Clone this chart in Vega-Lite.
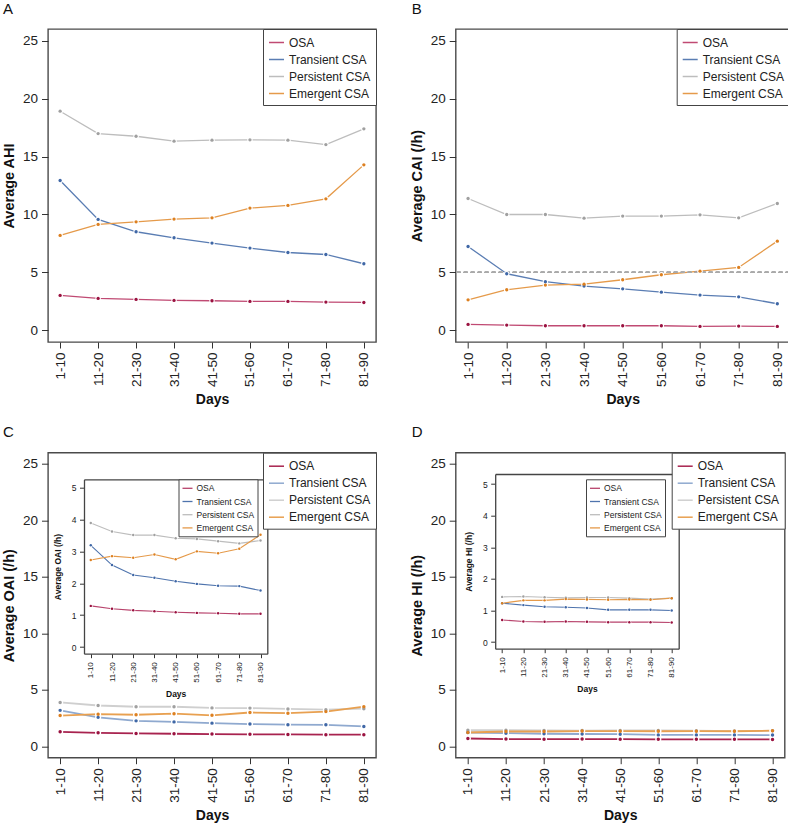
{
  "$schema": "https://vega.github.io/schema/vega-lite/v6.json",
  "padding": {"left": 0, "top": 0, "right": 0, "bottom": 0},
  "background": "white",
  "config": {
    "font": "Liberation Sans",
    "view": {"stroke": "#4a4a4a", "strokeWidth": 1.4},
    "axis": {"grid": false, "domain": false, "tickColor": "#333333", "labelColor": "#222222", "titleColor": "#111111", "titleFontWeight": "bold", "labelFont": "Liberation Sans", "titleFont": "Liberation Sans"},
    "legend": {"labelFont": "Liberation Sans", "labelColor": "#222222"},
    "title": {"font": "Liberation Sans", "color": "#111111"}
  },
  "datasets": {
    "ahi": [
      {"d":"1-10","g":"OSA","v":3.02},{"d":"11-20","g":"OSA","v":2.76},{"d":"21-30","g":"OSA","v":2.67},{"d":"31-40","g":"OSA","v":2.59},{"d":"41-50","g":"OSA","v":2.56},{"d":"51-60","g":"OSA","v":2.50},{"d":"61-70","g":"OSA","v":2.50},{"d":"71-80","g":"OSA","v":2.44},{"d":"81-90","g":"OSA","v":2.41},
      {"d":"1-10","g":"Transient CSA","v":12.93},{"d":"11-20","g":"Transient CSA","v":9.57},{"d":"21-30","g":"Transient CSA","v":8.51},{"d":"31-40","g":"Transient CSA","v":7.99},{"d":"41-50","g":"Transient CSA","v":7.53},{"d":"51-60","g":"Transient CSA","v":7.10},{"d":"61-70","g":"Transient CSA","v":6.72},{"d":"71-80","g":"Transient CSA","v":6.55},{"d":"81-90","g":"Transient CSA","v":5.75},
      {"d":"1-10","g":"Persistent CSA","v":18.91},{"d":"11-20","g":"Persistent CSA","v":16.98},{"d":"21-30","g":"Persistent CSA","v":16.75},{"d":"31-40","g":"Persistent CSA","v":16.32},{"d":"41-50","g":"Persistent CSA","v":16.41},{"d":"51-60","g":"Persistent CSA","v":16.44},{"d":"61-70","g":"Persistent CSA","v":16.41},{"d":"71-80","g":"Persistent CSA","v":16.03},{"d":"81-90","g":"Persistent CSA","v":17.39},
      {"d":"1-10","g":"Emergent CSA","v":8.19},{"d":"11-20","g":"Emergent CSA","v":9.14},{"d":"21-30","g":"Emergent CSA","v":9.37},{"d":"31-40","g":"Emergent CSA","v":9.60},{"d":"41-50","g":"Emergent CSA","v":9.71},{"d":"51-60","g":"Emergent CSA","v":10.55},{"d":"61-70","g":"Emergent CSA","v":10.78},{"d":"71-80","g":"Emergent CSA","v":11.35},{"d":"81-90","g":"Emergent CSA","v":14.28}
    ],
    "cai": [
      {"d":"1-10","g":"OSA","v":0.52},{"d":"11-20","g":"OSA","v":0.46},{"d":"21-30","g":"OSA","v":0.40},{"d":"31-40","g":"OSA","v":0.40},{"d":"41-50","g":"OSA","v":0.40},{"d":"51-60","g":"OSA","v":0.40},{"d":"61-70","g":"OSA","v":0.34},{"d":"71-80","g":"OSA","v":0.37},{"d":"81-90","g":"OSA","v":0.34},
      {"d":"1-10","g":"Transient CSA","v":7.24},{"d":"11-20","g":"Transient CSA","v":4.89},{"d":"21-30","g":"Transient CSA","v":4.20},{"d":"31-40","g":"Transient CSA","v":3.82},{"d":"41-50","g":"Transient CSA","v":3.59},{"d":"51-60","g":"Transient CSA","v":3.30},{"d":"61-70","g":"Transient CSA","v":3.05},{"d":"71-80","g":"Transient CSA","v":2.90},{"d":"81-90","g":"Transient CSA","v":2.30},
      {"d":"1-10","g":"Persistent CSA","v":11.38},{"d":"11-20","g":"Persistent CSA","v":10.0},{"d":"21-30","g":"Persistent CSA","v":10.0},{"d":"31-40","g":"Persistent CSA","v":9.68},{"d":"41-50","g":"Persistent CSA","v":9.86},{"d":"51-60","g":"Persistent CSA","v":9.86},{"d":"61-70","g":"Persistent CSA","v":9.97},{"d":"71-80","g":"Persistent CSA","v":9.71},{"d":"81-90","g":"Persistent CSA","v":10.95},
      {"d":"1-10","g":"Emergent CSA","v":2.64},{"d":"11-20","g":"Emergent CSA","v":3.51},{"d":"21-30","g":"Emergent CSA","v":3.91},{"d":"31-40","g":"Emergent CSA","v":3.99},{"d":"41-50","g":"Emergent CSA","v":4.37},{"d":"51-60","g":"Emergent CSA","v":4.80},{"d":"61-70","g":"Emergent CSA","v":5.11},{"d":"71-80","g":"Emergent CSA","v":5.43},{"d":"81-90","g":"Emergent CSA","v":7.70}
    ],
    "oai": [
      {"d":"1-10","g":"OSA","v":1.29},{"d":"11-20","g":"OSA","v":1.20},{"d":"21-30","g":"OSA","v":1.15},{"d":"31-40","g":"OSA","v":1.12},{"d":"41-50","g":"OSA","v":1.09},{"d":"51-60","g":"OSA","v":1.07},{"d":"61-70","g":"OSA","v":1.06},{"d":"71-80","g":"OSA","v":1.04},{"d":"81-90","g":"OSA","v":1.04},
      {"d":"1-10","g":"Transient CSA","v":3.19},{"d":"11-20","g":"Transient CSA","v":2.57},{"d":"21-30","g":"Transient CSA","v":2.26},{"d":"31-40","g":"Transient CSA","v":2.17},{"d":"41-50","g":"Transient CSA","v":2.06},{"d":"51-60","g":"Transient CSA","v":1.98},{"d":"61-70","g":"Transient CSA","v":1.92},{"d":"71-80","g":"Transient CSA","v":1.91},{"d":"81-90","g":"Transient CSA","v":1.77},
      {"d":"1-10","g":"Persistent CSA","v":3.89},{"d":"11-20","g":"Persistent CSA","v":3.62},{"d":"21-30","g":"Persistent CSA","v":3.51},{"d":"31-40","g":"Persistent CSA","v":3.51},{"d":"41-50","g":"Persistent CSA","v":3.41},{"d":"51-60","g":"Persistent CSA","v":3.39},{"d":"61-70","g":"Persistent CSA","v":3.32},{"d":"71-80","g":"Persistent CSA","v":3.25},{"d":"81-90","g":"Persistent CSA","v":3.34},
      {"d":"1-10","g":"Emergent CSA","v":2.73},{"d":"11-20","g":"Emergent CSA","v":2.85},{"d":"21-30","g":"Emergent CSA","v":2.80},{"d":"31-40","g":"Emergent CSA","v":2.90},{"d":"41-50","g":"Emergent CSA","v":2.75},{"d":"51-60","g":"Emergent CSA","v":3.00},{"d":"61-70","g":"Emergent CSA","v":2.94},{"d":"71-80","g":"Emergent CSA","v":3.08},{"d":"81-90","g":"Emergent CSA","v":3.52}
    ],
    "hi": [
      {"d":"1-10","g":"OSA","v":0.70},{"d":"11-20","g":"OSA","v":0.65},{"d":"21-30","g":"OSA","v":0.64},{"d":"31-40","g":"OSA","v":0.65},{"d":"41-50","g":"OSA","v":0.64},{"d":"51-60","g":"OSA","v":0.63},{"d":"61-70","g":"OSA","v":0.63},{"d":"71-80","g":"OSA","v":0.63},{"d":"81-90","g":"OSA","v":0.62},
      {"d":"1-10","g":"Transient CSA","v":1.23},{"d":"11-20","g":"Transient CSA","v":1.17},{"d":"21-30","g":"Transient CSA","v":1.12},{"d":"31-40","g":"Transient CSA","v":1.10},{"d":"41-50","g":"Transient CSA","v":1.08},{"d":"51-60","g":"Transient CSA","v":1.02},{"d":"61-70","g":"Transient CSA","v":1.02},{"d":"71-80","g":"Transient CSA","v":1.02},{"d":"81-90","g":"Transient CSA","v":1.00},
      {"d":"1-10","g":"Persistent CSA","v":1.43},{"d":"11-20","g":"Persistent CSA","v":1.44},{"d":"21-30","g":"Persistent CSA","v":1.42},{"d":"31-40","g":"Persistent CSA","v":1.40},{"d":"41-50","g":"Persistent CSA","v":1.41},{"d":"51-60","g":"Persistent CSA","v":1.41},{"d":"61-70","g":"Persistent CSA","v":1.39},{"d":"71-80","g":"Persistent CSA","v":1.36},{"d":"81-90","g":"Persistent CSA","v":1.39},
      {"d":"1-10","g":"Emergent CSA","v":1.23},{"d":"11-20","g":"Emergent CSA","v":1.32},{"d":"21-30","g":"Emergent CSA","v":1.32},{"d":"31-40","g":"Emergent CSA","v":1.36},{"d":"41-50","g":"Emergent CSA","v":1.35},{"d":"51-60","g":"Emergent CSA","v":1.34},{"d":"61-70","g":"Emergent CSA","v":1.35},{"d":"71-80","g":"Emergent CSA","v":1.34},{"d":"81-90","g":"Emergent CSA","v":1.39}
    ]
  },
  "columns": 2,
  "spacing": {"row": 110.7, "column": 79.7},
  "bounds": "flush",
  "resolve": {"scale": {"color": "independent", "fill": "independent"}},
  "concat": [
    {
      "width": 328, "height": 313,
      "title": {"text": "A", "anchor": "start", "frame": "group", "dx": -45, "offset": 0, "fontSize": 15, "fontWeight": "normal", "baseline": "alphabetic"},
      "data": {"name": "ahi"},
      "layer": [
        {"mark": {"type": "line", "strokeWidth": 1.3},
         "encoding": {
           "x": {"field": "d", "type": "ordinal", "scale": {"type": "point", "domain": ["1-10","11-20","21-30","31-40","41-50","51-60","61-70","71-80","81-90"], "padding": 0.32},
                 "axis": {"orient": "bottom", "title": "Days", "labelAngle": 270, "tickSize": 6, "labelFontSize": 13.5, "labelPadding": 4, "titleFontSize": 14, "titlePadding": 6}},
           "y": {"field": "v", "type": "quantitative", "scale": {"domain": [-1, 26], "nice": false, "zero": false},
                 "axis": {"orient": "left", "title": "Average AHI", "values": [0,5,10,15,20,25], "tickSize": 6.5, "labelFontSize": 13.5, "labelPadding": 4, "titleFontSize": 14.5, "titlePadding": 6}},
           "color": {"field": "g", "type": "nominal", "scale": {"domain": ["OSA","Transient CSA","Persistent CSA","Emergent CSA"], "range": ["#c04a73","#5a7db3","#bdbdbd","#e59a4a"]},
                     "legend": {"title": null, "orient": "top-right", "offset": 0, "padding": 5, "rowPadding": 2, "labelFontSize": 12, "symbolType": "stroke", "symbolSize": 225, "symbolStrokeWidth": 1.5, "labelOffset": 4, "strokeColor": "#444444", "fillColor": "white"}}
         }},
        {"mark": {"type": "circle", "size": 30, "fill": "white", "opacity": 1},
         "encoding": {"x": {"field": "d", "type": "ordinal", "axis": {"title": "Days"}}, "y": {"field": "v", "type": "quantitative", "axis": {"title": "Average AHI"}}}},
        {"mark": {"type": "circle", "size": 11, "opacity": 1},
         "encoding": {"x": {"field": "d", "type": "ordinal", "axis": {"title": "Days"}}, "y": {"field": "v", "type": "quantitative", "axis": {"title": "Average AHI"}},
           "fill": {"field": "g", "type": "nominal", "scale": {"domain": ["OSA","Transient CSA","Persistent CSA","Emergent CSA"], "range": ["#9a1240","#3f67a6","#a0a0a0","#dd8020"]}, "legend": null}}}
      ]
    },
    {
      "width": 334, "height": 313,
      "title": {"text": "B", "anchor": "start", "frame": "group", "dx": -44, "offset": 0, "fontSize": 15, "fontWeight": "normal", "baseline": "alphabetic"},
      "data": {"name": "cai"},
      "layer": [
        {"mark": {"type": "line", "strokeWidth": 1.3},
         "encoding": {
           "x": {"field": "d", "type": "ordinal", "scale": {"type": "point", "domain": ["1-10","11-20","21-30","31-40","41-50","51-60","61-70","71-80","81-90"], "padding": 0.32},
                 "axis": {"orient": "bottom", "title": "Days", "labelAngle": 270, "tickSize": 6, "labelFontSize": 13.5, "labelPadding": 4, "titleFontSize": 14, "titlePadding": 6}},
           "y": {"field": "v", "type": "quantitative", "scale": {"domain": [-1, 26], "nice": false, "zero": false},
                 "axis": {"orient": "left", "title": "Average CAI (/h)", "values": [0,5,10,15,20,25], "tickSize": 6.5, "labelFontSize": 13.5, "labelPadding": 4, "titleFontSize": 14.5, "titlePadding": 6}},
           "color": {"field": "g", "type": "nominal", "scale": {"domain": ["OSA","Transient CSA","Persistent CSA","Emergent CSA"], "range": ["#c04a73","#5a7db3","#bdbdbd","#e59a4a"]},
                     "legend": {"title": null, "orient": "top-right", "offset": 0, "padding": 5, "rowPadding": 2, "labelFontSize": 12, "symbolType": "stroke", "symbolSize": 225, "symbolStrokeWidth": 1.5, "labelOffset": 4, "strokeColor": "#444444", "fillColor": "white"}}
         }},
        {"mark": {"type": "rule", "strokeDash": [4, 3], "color": "#aaaaaa", "strokeWidth": 1},
         "encoding": {"y": {"datum": 5, "type": "quantitative", "axis": {"title": "Average CAI (/h)"}}}},
        {"mark": {"type": "circle", "size": 30, "fill": "white", "opacity": 1},
         "encoding": {"x": {"field": "d", "type": "ordinal", "axis": {"title": "Days"}}, "y": {"field": "v", "type": "quantitative", "axis": {"title": "Average CAI (/h)"}}}},
        {"mark": {"type": "circle", "size": 11, "opacity": 1},
         "encoding": {"x": {"field": "d", "type": "ordinal", "axis": {"title": "Days"}}, "y": {"field": "v", "type": "quantitative", "axis": {"title": "Average CAI (/h)"}},
           "fill": {"field": "g", "type": "nominal", "scale": {"domain": ["OSA","Transient CSA","Persistent CSA","Emergent CSA"], "range": ["#9a1240","#3f67a6","#a0a0a0","#dd8020"]}, "legend": null}}}
      ]
    },
    {
      "width": 328, "height": 305,
      "title": {"text": "C", "anchor": "start", "frame": "group", "dx": -45, "offset": 0.7, "fontSize": 15, "fontWeight": "normal", "baseline": "alphabetic"},
      "data": {"name": "oai"},
      "layer": [
        {"layer": [
          {"mark": {"type": "line", "strokeWidth": 1.8},
           "encoding": {
             "x": {"field": "d", "type": "ordinal", "scale": {"type": "point", "domain": ["1-10","11-20","21-30","31-40","41-50","51-60","61-70","71-80","81-90"], "padding": 0.32},
                   "axis": {"orient": "bottom", "title": "Days", "labelAngle": 270, "tickSize": 6, "labelFontSize": 13.5, "labelPadding": 4, "titleFontSize": 14, "titlePadding": 6}},
             "y": {"field": "v", "type": "quantitative", "scale": {"domain": [-1, 26], "nice": false, "zero": false},
                   "axis": {"orient": "left", "title": "Average OAI (/h)", "values": [0,5,10,15,20,25], "tickSize": 6.5, "labelFontSize": 13.5, "labelPadding": 4, "titleFontSize": 14.5, "titlePadding": 6}},
             "color": {"field": "g", "type": "nominal", "scale": {"domain": ["OSA","Transient CSA","Persistent CSA","Emergent CSA"], "range": ["#a8234f","#8fa9cf","#cfcfcf","#e8a050"]},
                       "legend": {"title": null, "orient": "top-right", "offset": 0, "padding": 5, "rowPadding": 2, "labelFontSize": 12, "symbolType": "stroke", "symbolSize": 225, "symbolStrokeWidth": 1.5, "labelOffset": 4, "strokeColor": "#444444", "fillColor": "white"}}
           }},
          {"mark": {"type": "circle", "size": 38, "fill": "white", "opacity": 1},
           "encoding": {"x": {"field": "d", "type": "ordinal", "axis": {"title": "Days"}}, "y": {"field": "v", "type": "quantitative", "axis": {"title": "Average OAI (/h)"}}}},
          {"mark": {"type": "circle", "size": 12, "opacity": 1},
           "encoding": {"x": {"field": "d", "type": "ordinal", "axis": {"title": "Days"}}, "y": {"field": "v", "type": "quantitative", "axis": {"title": "Average OAI (/h)"}},
             "fill": {"field": "g", "type": "nominal", "scale": {"domain": ["OSA","Transient CSA","Persistent CSA","Emergent CSA"], "range": ["#9a1240","#3f67a6","#a0a0a0","#dd8020"]}, "legend": null}}}
        ]},
        {"layer": [
          {"mark": {"type": "line", "strokeWidth": 1.1},
           "encoding": {
             "x": {"field": "d", "type": "ordinal", "scale": {"type": "point", "domain": ["1-10","11-20","21-30","31-40","41-50","51-60","61-70","71-80","81-90"], "padding": 0.32, "range": [36, 219.3]},
                   "axis": {"orient": "bottom", "offset": -104, "title": "Days", "labelAngle": 270, "tickSize": 4, "labelFontSize": 8, "labelPadding": 4, "titleFontSize": 8.5, "titlePadding": 7, "domain": true, "domainColor": "#444444", "domainWidth": 1.3}},
             "y": {"field": "v", "type": "quantitative", "scale": {"domain": [-0.21, 5.26], "nice": false, "zero": false, "range": [201, 26.6]},
                   "axis": {"orient": "left", "offset": -36, "title": "Average OAI (/h)", "values": [0,1,2,3,4,5], "tickSize": 4.5, "labelFontSize": 8.5, "labelPadding": 3.5, "titleFontSize": 8.5, "titlePadding": 9, "domain": true, "domainColor": "#444444", "domainWidth": 1.3}},
             "color": {"field": "g", "type": "nominal", "scale": {"domain": ["OSA","Transient CSA","Persistent CSA","Emergent CSA"], "range": ["#b8436c","#4f74ad","#bdbdbd","#e59a4a"]},
                       "legend": {"title": null, "orient": "none", "legendX": 130.5, "legendY": 26.6, "padding": 3, "rowPadding": 2.2, "labelFontSize": 8.5, "symbolType": "stroke", "symbolSize": 100, "symbolStrokeWidth": 1.3, "labelOffset": 3, "strokeColor": "#444444", "fillColor": "white"}}
           }},
          {"mark": {"type": "circle", "size": 14, "fill": "white", "opacity": 1},
           "encoding": {"x": {"field": "d", "type": "ordinal", "axis": null}, "y": {"field": "v", "type": "quantitative", "axis": null}}},
          {"mark": {"type": "circle", "size": 6, "opacity": 1},
           "encoding": {"x": {"field": "d", "type": "ordinal", "axis": null}, "y": {"field": "v", "type": "quantitative", "axis": null},
             "fill": {"field": "g", "type": "nominal", "scale": {"domain": ["OSA","Transient CSA","Persistent CSA","Emergent CSA"], "range": ["#9a1240","#3f67a6","#a0a0a0","#dd8020"]}, "legend": null}}},
          {"mark": {"type": "circle", "opacity": 0},
           "encoding": {
             "x": {"field": "d", "type": "ordinal", "axis": {"orient": "top", "offset": -26.6, "labels": false, "ticks": false, "title": null, "domain": true, "domainColor": "#444444", "domainWidth": 1.3}},
             "y": {"field": "v", "type": "quantitative", "axis": {"orient": "right", "offset": -108.7, "labels": false, "ticks": false, "title": null, "domain": true, "domainColor": "#444444", "domainWidth": 1.3}}}}
        ],
         "resolve": {"axis": {"x": "independent", "y": "independent"}}}
      ],
      "resolve": {"scale": {"x": "independent", "y": "independent", "color": "independent", "fill": "independent"}}
    },
    {
      "width": 329, "height": 305,
      "title": {"text": "D", "anchor": "start", "frame": "group", "dx": -44, "offset": 0.7, "fontSize": 15, "fontWeight": "normal", "baseline": "alphabetic"},
      "data": {"name": "hi"},
      "layer": [
        {"layer": [
          {"mark": {"type": "line", "strokeWidth": 1.8},
           "encoding": {
             "x": {"field": "d", "type": "ordinal", "scale": {"type": "point", "domain": ["1-10","11-20","21-30","31-40","41-50","51-60","61-70","71-80","81-90"], "padding": 0.32},
                   "axis": {"orient": "bottom", "title": "Days", "labelAngle": 270, "tickSize": 6, "labelFontSize": 13.5, "labelPadding": 4, "titleFontSize": 14, "titlePadding": 6}},
             "y": {"field": "v", "type": "quantitative", "scale": {"domain": [-1, 26], "nice": false, "zero": false},
                   "axis": {"orient": "left", "title": "Average HI (/h)", "values": [0,5,10,15,20,25], "tickSize": 6.5, "labelFontSize": 13.5, "labelPadding": 4, "titleFontSize": 14.5, "titlePadding": 6}},
             "color": {"field": "g", "type": "nominal", "scale": {"domain": ["OSA","Transient CSA","Persistent CSA","Emergent CSA"], "range": ["#a8234f","#8fa9cf","#cfcfcf","#e8a050"]},
                       "legend": {"title": null, "orient": "top-right", "offset": 0, "padding": 5, "rowPadding": 2, "labelFontSize": 12, "symbolType": "stroke", "symbolSize": 225, "symbolStrokeWidth": 1.5, "labelOffset": 4, "strokeColor": "#444444", "fillColor": "white"}}
           }},
          {"mark": {"type": "circle", "size": 38, "fill": "white", "opacity": 1},
           "encoding": {"x": {"field": "d", "type": "ordinal", "axis": {"title": "Days"}}, "y": {"field": "v", "type": "quantitative", "axis": {"title": "Average HI (/h)"}}}},
          {"mark": {"type": "circle", "size": 12, "opacity": 1},
           "encoding": {"x": {"field": "d", "type": "ordinal", "axis": {"title": "Days"}}, "y": {"field": "v", "type": "quantitative", "axis": {"title": "Average HI (/h)"}},
             "fill": {"field": "g", "type": "nominal", "scale": {"domain": ["OSA","Transient CSA","Persistent CSA","Emergent CSA"], "range": ["#9a1240","#3f67a6","#a0a0a0","#dd8020"]}, "legend": null}}}
        ]},
        {"layer": [
          {"mark": {"type": "line", "strokeWidth": 1.1},
           "encoding": {
             "x": {"field": "d", "type": "ordinal", "scale": {"type": "point", "domain": ["1-10","11-20","21-30","31-40","41-50","51-60","61-70","71-80","81-90"], "padding": 0.33, "range": [39.5, 223]},
                   "axis": {"orient": "bottom", "offset": -109, "title": "Days", "labelAngle": 270, "tickSize": 4, "labelFontSize": 8, "labelPadding": 4, "titleFontSize": 8.5, "titlePadding": 7, "domain": true, "domainColor": "#444444", "domainWidth": 1.3}},
             "y": {"field": "v", "type": "quantitative", "scale": {"domain": [-0.21, 5.32], "nice": false, "zero": false, "range": [196, 21.3]},
                   "axis": {"orient": "left", "offset": -39.5, "title": "Average HI (/h)", "values": [0,1,2,3,4,5], "tickSize": 4.5, "labelFontSize": 8.5, "labelPadding": 3.5, "titleFontSize": 8.5, "titlePadding": 9, "domain": true, "domainColor": "#444444", "domainWidth": 1.3}},
             "color": {"field": "g", "type": "nominal", "scale": {"domain": ["OSA","Transient CSA","Persistent CSA","Emergent CSA"], "range": ["#b8436c","#4f74ad","#bdbdbd","#e59a4a"]},
                       "legend": {"title": null, "orient": "none", "legendX": 130.3, "legendY": 26.6, "padding": 3, "rowPadding": 2.2, "labelFontSize": 8.5, "symbolType": "stroke", "symbolSize": 100, "symbolStrokeWidth": 1.3, "labelOffset": 3, "strokeColor": "#444444", "fillColor": "white"}}
           }},
          {"mark": {"type": "circle", "size": 14, "fill": "white", "opacity": 1},
           "encoding": {"x": {"field": "d", "type": "ordinal", "axis": null}, "y": {"field": "v", "type": "quantitative", "axis": null}}},
          {"mark": {"type": "circle", "size": 6, "opacity": 1},
           "encoding": {"x": {"field": "d", "type": "ordinal", "axis": null}, "y": {"field": "v", "type": "quantitative", "axis": null},
             "fill": {"field": "g", "type": "nominal", "scale": {"domain": ["OSA","Transient CSA","Persistent CSA","Emergent CSA"], "range": ["#9a1240","#3f67a6","#a0a0a0","#dd8020"]}, "legend": null}}},
          {"mark": {"type": "circle", "opacity": 0},
           "encoding": {
             "x": {"field": "d", "type": "ordinal", "axis": {"orient": "top", "offset": -21.3, "labels": false, "ticks": false, "title": null, "domain": true, "domainColor": "#444444", "domainWidth": 1.3}},
             "y": {"field": "v", "type": "quantitative", "axis": {"orient": "right", "offset": -106, "labels": false, "ticks": false, "title": null, "domain": true, "domainColor": "#444444", "domainWidth": 1.3}}}}
        ],
         "resolve": {"axis": {"x": "independent", "y": "independent"}}}
      ],
      "resolve": {"scale": {"x": "independent", "y": "independent", "color": "independent", "fill": "independent"}}
    }
  ]
}
